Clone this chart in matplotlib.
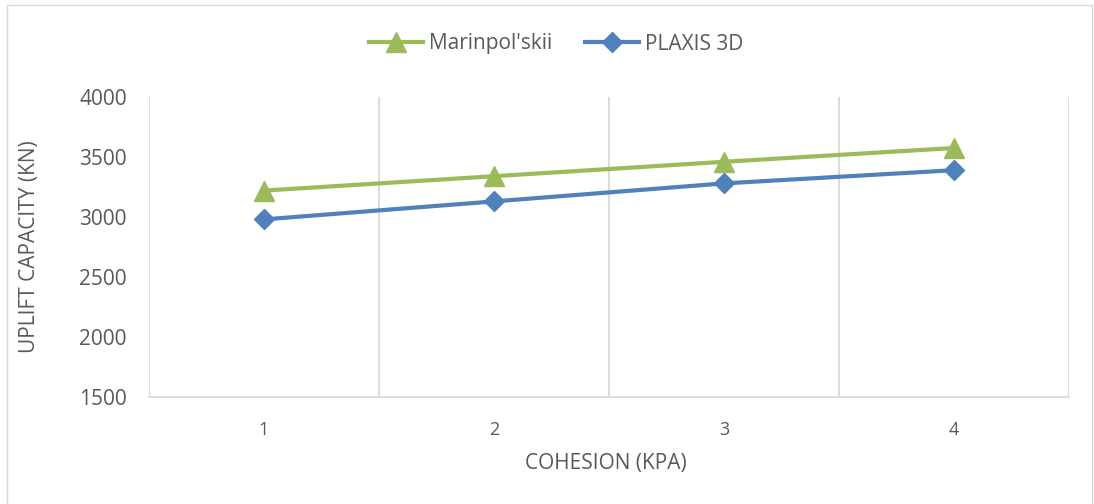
import matplotlib
matplotlib.use("Agg")
import matplotlib.pyplot as plt
from matplotlib.patches import Rectangle

# Data
cohesion = [1, 2, 3, 4]
marinpolskii = [3220, 3340, 3460, 3575]
plaxis_3d = [2980, 3130, 3280, 3390]
y_ticks = [1500, 2000, 2500, 3000, 3500, 4000]

GREEN = "#9BBB59"
BLUE = "#4F81BD"
TEXT = "#595959"
GRID = "#D9D9D9"

plt.rcParams["font.family"] = ["Open Sans", "DejaVu Sans"]

W, H = 1094, 504
fig = plt.figure(figsize=(W / 100, H / 100), dpi=100)
fig.patch.set_facecolor("white")

# outer chart frame
fig.add_artist(Rectangle((7 / W, -0.05), (1092 - 7) / W, (H - 5) / H + 0.05,
                         transform=fig.transFigure, fill=False,
                         edgecolor=GRID, linewidth=1.0))

ax = fig.add_axes([149 / W, (H - 397) / H, (1069 - 149) / W, (397 - 97) / H])
ax.set_xlim(0.5, 4.5)
ax.set_ylim(1500, 4000)

# vertical gridlines at category boundaries
for xb in [0.5, 1.5, 2.5, 3.5, 4.5]:
    ax.axvline(xb, color=GRID, linewidth=1.3, zorder=0)

ax.plot(cohesion, marinpolskii, color=GREEN, linewidth=3.0, marker="^",
        markersize=14, label="Marinpol'skii", zorder=3)
ax.plot(cohesion, plaxis_3d, color=BLUE, linewidth=3.0, marker="D",
        markersize=10, label="PLAXIS 3D", zorder=3)

for side in ["top", "right", "left"]:
    ax.spines[side].set_visible(False)
ax.spines["bottom"].set_color(GRID)
ax.spines["bottom"].set_linewidth(1.3)

ax.set_xticks(cohesion)
ax.set_xticklabels([str(c) for c in cohesion])
ax.set_yticks(y_ticks)
ax.set_yticklabels([str(v) for v in y_ticks])
ax.tick_params(axis="x", length=0, pad=17, labelsize=13, labelcolor=TEXT)
ax.tick_params(axis="y", length=0, pad=16, labelsize=15, labelcolor=TEXT)

fig.text(606 / W, 1 - 463 / H, "COHESION (KPA)", ha="center", va="center",
         fontsize=15, color=TEXT)
fig.text(30 / W, 1 - 247 / H, "UPLIFT CAPACITY (KN)", ha="center", va="center",
         rotation=90, fontsize=15, color=TEXT)

leg = fig.legend(loc="center", bbox_to_anchor=(556 / W, 1 - 44 / H), ncol=2,
                 frameon=False, fontsize=15, handlelength=2.6,
                 handletextpad=0.25, columnspacing=1.6, labelcolor=TEXT)

fig.savefig("out.png", dpi=100, facecolor="white")
